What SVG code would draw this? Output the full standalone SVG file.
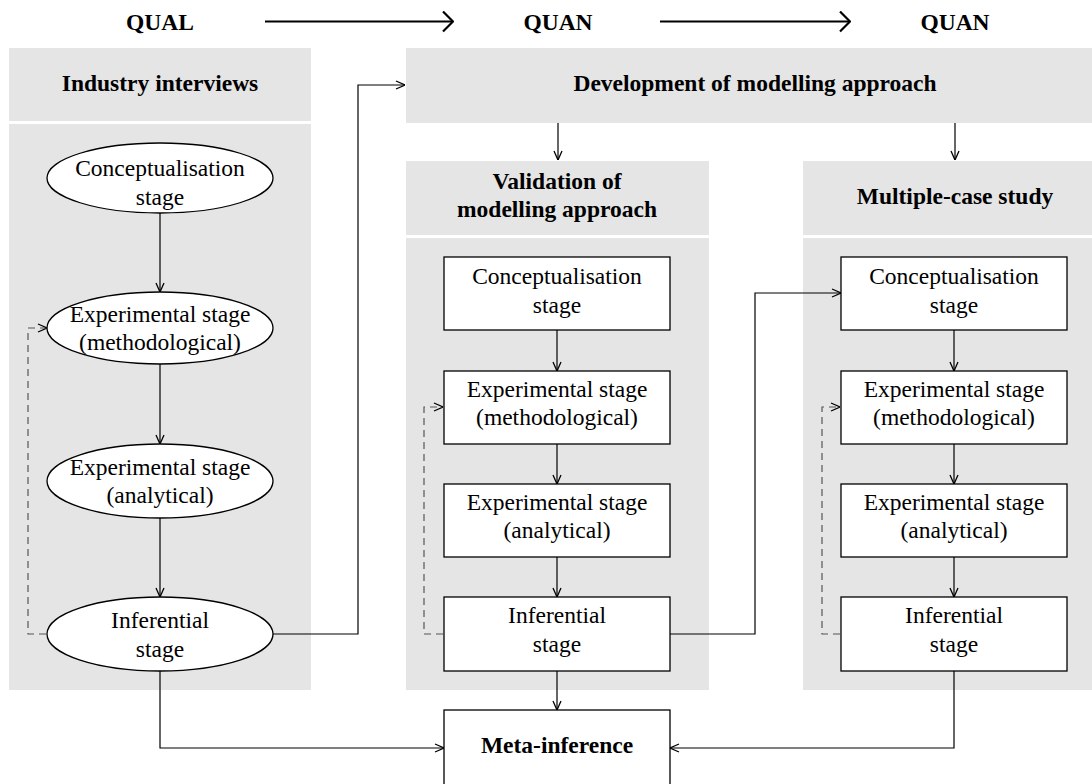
<svg xmlns="http://www.w3.org/2000/svg" width="1092" height="784" viewBox="0 0 1092 784">
<defs>
<style>
.panel{fill:#e5e5e5}
.node{fill:#fff;stroke:#000;stroke-width:1.3}
.t{font-family:"Liberation Serif","Times New Roman",serif;font-size:23.5px;fill:#000;text-anchor:middle}
.b{font-family:"Liberation Serif","Times New Roman",serif;font-size:23.5px;font-weight:bold;fill:#000;text-anchor:middle}
.c{fill:none;stroke:#000;stroke-width:1.2}
.d{fill:none;stroke:#555;stroke-width:1.2;stroke-dasharray:7,5}
.top{fill:none;stroke:#000;stroke-width:2}
</style>
<marker id="ah" viewBox="0 0 10 10" refX="10" refY="5" markerWidth="10" markerHeight="10" markerUnits="userSpaceOnUse" orient="auto">
<path d="M1,1 L10,5 L1,9" fill="none" stroke="#000" stroke-width="1.3"/>
</marker>
<marker id="ahb" viewBox="0 0 12 22" refX="11" refY="11" markerWidth="12" markerHeight="22" markerUnits="userSpaceOnUse" orient="auto">
<path d="M1,1 L11,11 L1,21" fill="none" stroke="#000" stroke-width="2.2"/>
</marker>
</defs>
<rect width="1092" height="784" fill="#fff"/>

<g id="phase-labels">
<text class="b" x="160" y="30">QUAL</text>
<text class="b" x="558" y="30">QUAN</text>
<text class="b" x="955" y="30">QUAN</text>
</g>

<g id="panel-industry">
<rect class="panel" x="9" y="48" width="302" height="73"/>
<rect class="panel" x="9" y="124" width="302" height="566"/>
<text class="b" x="160" y="91">Industry interviews</text>
</g>
<g id="panel-development">
<rect class="panel" x="406" y="48" width="686" height="75"/>
<text class="b" x="755" y="91">Development of modelling approach</text>
</g>
<g id="panel-validation">
<rect class="panel" x="406" y="161" width="303" height="74"/>
<rect class="panel" x="406" y="238" width="303" height="452"/>
<text class="b" x="557" y="189">Validation of</text>
<text class="b" x="557" y="217">modelling approach</text>
</g>
<g id="panel-multiple">
<rect class="panel" x="803" y="161" width="289" height="74"/>
<rect class="panel" x="803" y="238" width="289" height="452"/>
<text class="b" x="955" y="204">Multiple-case study</text>
</g>

<g id="l-concept"><ellipse class="node" cx="160" cy="178" rx="113" ry="35"/><text class="t" x="160" y="176">Conceptualisation</text><text class="t" x="160" y="205">stage</text></g>
<g id="l-method"><ellipse class="node" cx="160" cy="328" rx="113" ry="36"/><text class="t" x="160" y="322">Experimental stage</text><text class="t" x="160" y="350">(methodological)</text></g>
<g id="l-analyt"><ellipse class="node" cx="160" cy="481" rx="113" ry="37"/><text class="t" x="160" y="475">Experimental stage</text><text class="t" x="160" y="503">(analytical)</text></g>
<g id="l-infer"><ellipse class="node" cx="160" cy="634" rx="113" ry="37"/><text class="t" x="160" y="628">Inferential</text><text class="t" x="160" y="657">stage</text></g>

<g id="m-concept"><rect class="node" x="444" y="257" width="226" height="73"/><text class="t" x="557" y="284">Conceptualisation</text><text class="t" x="557" y="313">stage</text></g>
<g id="m-method"><rect class="node" x="444" y="371" width="226" height="73"/><text class="t" x="557" y="397">Experimental stage</text><text class="t" x="557" y="425">(methodological)</text></g>
<g id="m-analyt"><rect class="node" x="444" y="484" width="226" height="73"/><text class="t" x="557" y="510">Experimental stage</text><text class="t" x="557" y="538">(analytical)</text></g>
<g id="m-infer"><rect class="node" x="444" y="597" width="226" height="74"/><text class="t" x="557" y="623">Inferential</text><text class="t" x="557" y="652">stage</text></g>

<g id="r-concept"><rect class="node" x="841" y="257" width="226" height="73"/><text class="t" x="954" y="284">Conceptualisation</text><text class="t" x="954" y="313">stage</text></g>
<g id="r-method"><rect class="node" x="841" y="371" width="226" height="73"/><text class="t" x="954" y="397">Experimental stage</text><text class="t" x="954" y="425">(methodological)</text></g>
<g id="r-analyt"><rect class="node" x="841" y="484" width="226" height="73"/><text class="t" x="954" y="510">Experimental stage</text><text class="t" x="954" y="538">(analytical)</text></g>
<g id="r-infer"><rect class="node" x="841" y="597" width="226" height="74"/><text class="t" x="954" y="623">Inferential</text><text class="t" x="954" y="652">stage</text></g>

<g id="meta"><rect class="node" x="444" y="710" width="226" height="76"/><text class="b" x="557" y="753">Meta-inference</text></g>

<g id="connectors">
<path class="top" d="M265,21.5 H453" marker-end="url(#ahb)"/>
<path class="top" d="M660,21.5 H850" marker-end="url(#ahb)"/>
<path class="c" d="M160,213 V292" marker-end="url(#ah)"/>
<path class="c" d="M160,364 V444" marker-end="url(#ah)"/>
<path class="c" d="M160,518 V597" marker-end="url(#ah)"/>
<path class="d" d="M46,634 H28 V328 H47" marker-end="url(#ah)"/>
<path class="c" d="M273,634 H358 V85 H405" marker-end="url(#ah)"/>
<path class="c" d="M160,671 V748 H444" marker-end="url(#ah)"/>
<path class="c" d="M558,123 V160" marker-end="url(#ah)"/>
<path class="c" d="M955,123 V160" marker-end="url(#ah)"/>
<path class="c" d="M557,330 V371" marker-end="url(#ah)"/>
<path class="c" d="M557,444 V484" marker-end="url(#ah)"/>
<path class="c" d="M557,557 V597" marker-end="url(#ah)"/>
<path class="c" d="M557,671 V710" marker-end="url(#ah)"/>
<path class="d" d="M443,634 H424 V407 H443" marker-end="url(#ah)"/>
<path class="c" d="M670,634 H755 V293 H841" marker-end="url(#ah)"/>
<path class="c" d="M954,330 V371" marker-end="url(#ah)"/>
<path class="c" d="M954,444 V484" marker-end="url(#ah)"/>
<path class="c" d="M954,557 V597" marker-end="url(#ah)"/>
<path class="d" d="M840,634 H822 V407 H840" marker-end="url(#ah)"/>
<path class="c" d="M954,671 V748 H670" marker-end="url(#ah)"/>
</g>
</svg>
